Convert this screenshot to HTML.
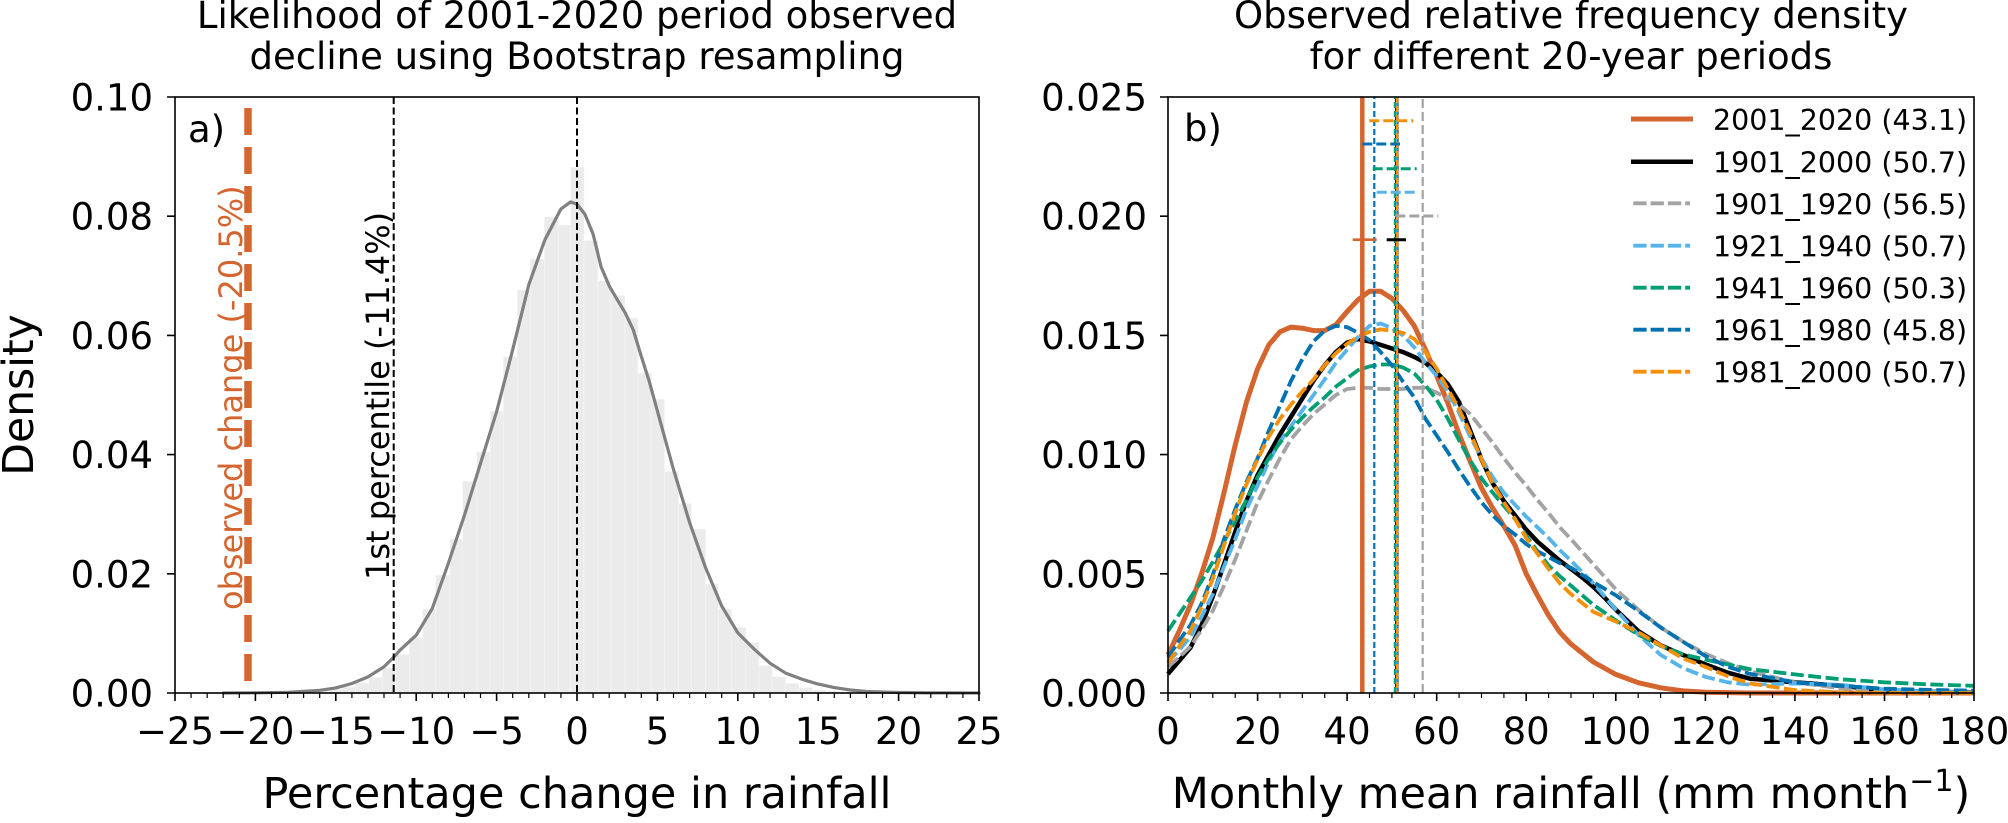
<!DOCTYPE html>
<html><head><meta charset="utf-8"><style>
html,body{margin:0;padding:0;background:#fff;}
svg{display:block;}
text{font-family:"DejaVu Sans","Liberation Sans",sans-serif;fill:#000;}
</style></head><body>
<svg width="2008" height="823" viewBox="0 0 2008 823" xmlns="http://www.w3.org/2000/svg">
<rect width="2008" height="823" fill="#fff"/>

<!-- ============ LEFT PANEL ============ -->
<text x="577" y="28" font-size="37" text-anchor="middle">Likelihood of 2001-2020 period observed</text>
<text x="577" y="69" font-size="37" text-anchor="middle">decline using Bootstrap resampling</text>

<!-- histogram -->
<g fill="#ebebeb" stroke="#f6f6f6" stroke-width="0.6">
<rect x="288.5" y="692.4" width="13.4" height="0.6"/>
<rect x="302.0" y="691.8" width="13.4" height="1.2"/>
<rect x="315.3" y="690.9" width="13.4" height="2.1"/>
<rect x="328.7" y="689.4" width="13.4" height="3.6"/>
<rect x="342.0" y="687.0" width="13.4" height="6.0"/>
<rect x="355.4" y="682.9" width="13.4" height="10.1"/>
<rect x="368.8" y="677.5" width="13.4" height="15.5"/>
<rect x="382.2" y="668.0" width="13.4" height="25.0"/>
<rect x="395.5" y="654.3" width="14.0" height="38.7"/>
<rect x="409.5" y="637.6" width="13.4" height="55.4"/>
<rect x="422.9" y="609.0" width="12.9" height="84.0"/>
<rect x="435.8" y="575.0" width="14.0" height="118.0"/>
<rect x="449.8" y="539.2" width="13.0" height="153.8"/>
<rect x="462.8" y="481.4" width="14.0" height="211.6"/>
<rect x="476.8" y="452.2" width="13.3" height="240.8"/>
<rect x="490.1" y="411.1" width="13.3" height="281.9"/>
<rect x="503.4" y="356.9" width="14.0" height="336.1"/>
<rect x="517.4" y="290.1" width="13.0" height="402.9"/>
<rect x="530.4" y="259.1" width="14.0" height="433.9"/>
<rect x="544.4" y="216.8" width="14.0" height="476.2"/>
<rect x="558.4" y="225.1" width="12.3" height="467.9"/>
<rect x="570.7" y="167.3" width="13.3" height="525.7"/>
<rect x="584.0" y="240.6" width="14.0" height="452.4"/>
<rect x="598.0" y="280.6" width="12.9" height="412.4"/>
<rect x="610.9" y="295.5" width="14.1" height="397.5"/>
<rect x="625.0" y="318.1" width="12.9" height="374.9"/>
<rect x="637.9" y="373.0" width="13.3" height="320.0"/>
<rect x="651.2" y="399.2" width="13.3" height="293.8"/>
<rect x="664.5" y="471.3" width="14.0" height="221.7"/>
<rect x="678.5" y="503.5" width="13.0" height="189.5"/>
<rect x="691.5" y="529.1" width="14.0" height="163.9"/>
<rect x="705.5" y="583.9" width="13.0" height="109.1"/>
<rect x="718.5" y="609.0" width="13.3" height="84.0"/>
<rect x="731.8" y="627.4" width="14.0" height="65.6"/>
<rect x="745.8" y="642.3" width="13.3" height="50.7"/>
<rect x="759.1" y="665.6" width="13.0" height="27.4"/>
<rect x="772.1" y="676.9" width="13.4" height="16.1"/>
<rect x="785.5" y="683.5" width="13.4" height="9.5"/>
<rect x="798.9" y="687.6" width="13.4" height="5.4"/>
<rect x="812.3" y="690.0" width="13.4" height="3.0"/>
<rect x="825.7" y="691.2" width="13.4" height="1.8"/>
<rect x="839.1" y="692.1" width="13.4" height="0.9"/>
<rect x="852.5" y="692.5" width="13.4" height="0.5"/>
</g>

<!-- KDE -->
<polyline fill="none" stroke="#808080" stroke-width="3.2" stroke-linejoin="round" stroke-linecap="round"
points="223.2,693 255.4,692.8 287.6,692.3 319.7,690.3 335.8,687.9 351.9,683.5 368.0,676.9 384.0,666.8 393.7,657.2 400.1,650.1 416.2,635.2 432.3,608.4 448.4,563.1 464.4,515.4 480.5,463.5 496.6,411.7 512.7,349.7 528.8,284.7 544.8,240.0 560.9,209.0 570.6,201.9 577.0,204.3 585.0,214.4 593.1,234.1 601.1,266.9 609.2,285.9 617.2,299.6 625.2,312.8 633.3,330.0 641.3,356.3 649.4,381.9 657.4,411.1 673.5,469.5 689.6,522.5 705.6,567.8 721.7,606.0 737.8,632.8 753.9,648.9 770.0,663.2 786.0,673.3 802.1,679.3 818.2,684.1 834.3,687.6 850.4,690.0 866.4,691.5 898.6,692.5 930.8,692.9 979,693"/>

<!-- vertical lines -->
<path d="M393.7,97 V693" stroke="#000" stroke-width="2" stroke-dasharray="7 3.5" fill="none"/>
<path d="M577,97 V693" stroke="#000" stroke-width="2" stroke-dasharray="7 3.5" fill="none"/>
<path d="M248,108 V693" stroke="#d4652f" stroke-width="7.5" stroke-dasharray="27 12" fill="none"/>

<!-- annotations -->
<text transform="translate(242,610) rotate(-90)" font-size="32" style="fill:#d4652f">observed change (-20.5%)</text>
<text transform="translate(389,580) rotate(-90)" font-size="32">1st percentile (-11.4%)</text>
<text x="188" y="142" font-size="37">a)</text>

<!-- spines -->
<rect x="175" y="97" width="804" height="596" fill="none" stroke="#000" stroke-width="1.6"/>

<!-- ticks -->
<path stroke="#000" stroke-width="1.6" fill="none" d="
M175,693v8 M255.4,693v8 M335.8,693v8 M416.2,693v8 M496.6,693v8 M577,693v8 M657.4,693v8 M737.8,693v8 M818.2,693v8 M898.6,693v8 M979,693v8
M175,693h-8 M175,573.8h-8 M175,454.6h-8 M175,335.4h-8 M175,216.2h-8 M175,97h-8"/>
<path stroke="#000" stroke-width="1.2" fill="none" d="
M191.1,693v5 M207.2,693v5 M223.2,693v5 M239.3,693v5 M271.5,693v5 M287.6,693v5 M303.6,693v5 M319.7,693v5
M351.9,693v5 M368.0,693v5 M384.0,693v5 M400.1,693v5 M432.3,693v5 M448.4,693v5 M464.4,693v5 M480.5,693v5
M512.7,693v5 M528.8,693v5 M544.8,693v5 M560.9,693v5 M593.1,693v5 M609.2,693v5 M625.2,693v5 M641.3,693v5
M673.5,693v5 M689.6,693v5 M705.6,693v5 M721.7,693v5 M753.9,693v5 M770.0,693v5 M786.0,693v5 M802.1,693v5
M834.3,693v5 M850.4,693v5 M866.4,693v5 M882.5,693v5 M914.7,693v5 M930.8,693v5 M946.8,693v5 M962.9,693v5"/>

<g font-size="37" text-anchor="middle">
<text x="175" y="744">−25</text>
<text x="255.4" y="744">−20</text>
<text x="335.8" y="744">−15</text>
<text x="416.2" y="744">−10</text>
<text x="496.6" y="744">−5</text>
<text x="577" y="744">0</text>
<text x="657.4" y="744">5</text>
<text x="737.8" y="744">10</text>
<text x="818.2" y="744">15</text>
<text x="898.6" y="744">20</text>
<text x="979" y="744">25</text>
</g>
<g font-size="37" text-anchor="end">
<text x="153" y="706.5">0.00</text>
<text x="153" y="587.3">0.02</text>
<text x="153" y="468.1">0.04</text>
<text x="153" y="348.9">0.06</text>
<text x="153" y="229.7">0.08</text>
<text x="153" y="110.5">0.10</text>
</g>
<text x="577" y="808" font-size="43" text-anchor="middle">Percentage change in rainfall</text>
<text transform="translate(33,395) rotate(-90)" font-size="42.5" text-anchor="middle">Density</text>

<!-- ============ RIGHT PANEL ============ -->
<text x="1571" y="28" font-size="37" text-anchor="middle">Observed relative frequency density</text>
<text x="1571" y="69" font-size="37" text-anchor="middle">for different 20-year periods</text>

<g fill="none" stroke-linejoin="round">
<polyline stroke="#d4652f" stroke-width="5" points="1168,654.9 1179.2,631.0 1190.4,604.8 1201.6,573.8 1212.8,538.0 1224.0,492.7 1235.2,445.1 1246.4,402.2 1257.6,368.8 1268.8,344.9 1280.0,331.8 1291.1,327.1 1302.3,328.2 1313.5,330.6 1324.7,330.6 1335.9,324.7 1347.1,311.6 1358.3,299.6 1369.5,291.3 1380.7,291.3 1391.9,298.4 1403.1,310.4 1414.3,325.9 1425.5,349.7 1436.7,375.9 1447.9,403.3 1459.1,434.3 1470.3,461.8 1481.5,488.0 1492.7,508.2 1503.9,526.1 1515.0,545.2 1526.2,573.8 1537.4,595.3 1548.6,615.5 1559.8,632.2 1571.0,644.1 1593.4,662.0 1615.8,674.4 1638.2,682.7 1660.6,687.8 1683.0,690.9 1705.4,692.3 1750.1,693 1974,693"/>
<polyline stroke="#000" stroke-width="4.5" points="1168,673.9 1179.2,660.8 1190.4,647.7 1201.6,625.1 1212.8,596.4 1224.0,564.3 1235.2,532.1 1246.4,501.1 1257.6,474.9 1268.8,454.6 1280.0,434.3 1291.1,416.5 1302.3,398.6 1313.5,380.7 1324.7,365.2 1335.9,352.1 1347.1,342.6 1358.3,339.0 1369.5,341.4 1380.7,344.9 1391.9,348.5 1403.1,352.1 1414.3,356.9 1425.5,362.8 1436.7,372.4 1447.9,384.3 1459.1,402.2 1470.3,430.8 1481.5,459.4 1492.7,483.2 1503.9,501.1 1515.0,515.4 1526.2,529.7 1537.4,541.6 1548.6,551.2 1559.8,560.7 1571.0,569.0 1582.2,577.4 1593.4,586.9 1604.6,597.6 1615.8,609.6 1638.2,631.0 1660.6,645.3 1683.0,654.9 1705.4,664.4 1727.8,672.7 1750.1,678.7 1794.9,682.3 1839.7,685.8 1884.5,690.1 1929.3,691.8 1974,692.5"/>
<g stroke-width="3.8" stroke-dasharray="13 4.5">
<polyline stroke="#a3a3a3" points="1168,666.8 1179.2,657.2 1190.4,646.5 1201.6,629.8 1212.8,610.8 1224.0,585.7 1235.2,559.5 1246.4,530.9 1257.6,502.3 1268.8,479.6 1280.0,458.2 1291.1,439.1 1302.3,426.0 1313.5,414.1 1324.7,404.5 1335.9,395.0 1347.1,389.0 1358.3,387.8 1369.5,387.8 1380.7,389.0 1391.9,389.0 1403.1,389.0 1414.3,387.8 1425.5,387.8 1436.7,392.6 1447.9,398.6 1459.1,404.5 1470.3,414.1 1481.5,428.4 1492.7,442.7 1503.9,458.2 1515.0,472.5 1526.2,485.6 1537.4,499.9 1548.6,513.0 1559.8,527.3 1571.0,539.2 1593.4,564.3 1615.8,589.3 1638.2,609.6 1660.6,627.4 1683.0,641.7 1705.4,653.7 1727.8,663.2 1750.1,671.5 1794.9,682.3 1839.7,688.2 1884.5,691.1 1929.3,692.3 1974,692.8"/>
<polyline stroke="#56b4e9" points="1168,662.0 1179.2,650.1 1190.4,637.0 1201.6,616.7 1212.8,594.1 1224.0,566.6 1235.2,539.2 1246.4,509.4 1257.6,485.6 1268.8,461.8 1280.0,441.5 1291.1,426.0 1302.3,410.5 1313.5,395.0 1324.7,379.5 1335.9,362.8 1347.1,349.7 1358.3,336.6 1369.5,325.9 1380.7,323.5 1391.9,328.2 1403.1,335.4 1414.3,347.3 1425.5,362.8 1436.7,375.9 1447.9,391.4 1459.1,412.9 1470.3,436.7 1481.5,458.2 1492.7,477.2 1503.9,492.7 1515.0,504.7 1526.2,516.6 1537.4,527.3 1548.6,538.0 1559.8,550.0 1571.0,560.7 1593.4,583.3 1615.8,609.6 1638.2,634.6 1660.6,654.9 1683.0,668.0 1705.4,676.8 1727.8,682.3 1750.1,684.7 1794.9,683.5 1839.7,684.7 1884.5,689.4 1929.3,691.6 1974,692.5"/>
<polyline stroke="#009e73" points="1168,631.0 1179.2,614.3 1190.4,597.6 1201.6,581.0 1212.8,561.9 1224.0,541.6 1235.2,521.4 1246.4,499.9 1257.6,477.2 1268.8,458.2 1280.0,442.7 1291.1,429.6 1302.3,417.6 1313.5,406.9 1324.7,397.4 1335.9,386.6 1347.1,378.3 1358.3,370.0 1369.5,366.4 1380.7,364.5 1391.9,364.5 1403.1,367.6 1414.3,373.5 1425.5,385.5 1436.7,399.8 1447.9,418.8 1459.1,440.3 1470.3,460.6 1481.5,478.4 1492.7,492.7 1503.9,505.9 1515.0,519.0 1526.2,535.7 1537.4,551.2 1548.6,565.5 1559.8,576.2 1571.0,585.7 1593.4,604.8 1615.8,620.3 1638.2,634.6 1660.6,645.8 1683.0,654.4 1705.4,659.6 1727.8,664.4 1750.1,669.2 1794.9,674.4 1839.7,679.2 1884.5,682.3 1929.3,684.4 1974,685.8"/>
<polyline stroke="#0072b2" points="1168,657.2 1179.2,640.6 1190.4,625.1 1201.6,603.6 1212.8,575.0 1224.0,539.2 1235.2,509.4 1246.4,482.0 1257.6,458.2 1268.8,430.8 1280.0,405.7 1291.1,380.7 1302.3,359.2 1313.5,341.4 1324.7,330.6 1335.9,325.9 1347.1,327.1 1358.3,333.0 1369.5,340.2 1380.7,352.1 1391.9,365.2 1403.1,381.9 1414.3,397.4 1425.5,418.8 1436.7,435.5 1447.9,452.2 1459.1,470.1 1470.3,486.8 1481.5,502.3 1492.7,515.4 1503.9,526.1 1515.0,534.5 1526.2,544.0 1537.4,551.2 1548.6,557.1 1559.8,563.1 1571.0,567.8 1593.4,582.1 1615.8,595.3 1638.2,610.8 1660.6,627.4 1683.0,641.7 1705.4,656.0 1727.8,666.8 1750.1,673.9 1794.9,682.3 1839.7,685.8 1884.5,688.7 1929.3,689.9 1974,690.6"/>
<polyline stroke="#f5900a" points="1168,663.2 1179.2,646.5 1190.4,631.0 1201.6,607.2 1212.8,578.6 1224.0,545.2 1235.2,513.0 1246.4,484.4 1257.6,459.4 1268.8,436.7 1280.0,418.8 1291.1,404.5 1302.3,391.4 1313.5,379.5 1324.7,365.2 1335.9,353.3 1347.1,343.8 1358.3,336.6 1369.5,331.8 1380.7,329.4 1391.9,330.6 1403.1,333.0 1414.3,339.0 1425.5,352.1 1436.7,368.8 1447.9,389.0 1459.1,409.3 1470.3,433.1 1481.5,459.4 1492.7,483.2 1503.9,502.3 1515.0,519.0 1526.2,538.0 1537.4,553.5 1548.6,569.0 1559.8,583.3 1571.0,594.1 1593.4,611.9 1615.8,621.5 1638.2,632.2 1660.6,645.3 1683.0,658.4 1705.4,666.8 1727.8,676.3 1750.1,683.5 1794.9,690.1 1839.7,692.3 1884.5,693 1974,693"/>
</g>
</g>

<!-- mean vertical lines -->
<path d="M1362.3,693 V97" stroke="#d4652f" stroke-width="4.5" fill="none"/>
<path d="M1374.3,693 V97" stroke="#0072b2" stroke-width="2.2" stroke-dasharray="6 3" fill="none"/>
<path d="M1422.7,693 V97" stroke="#a3a3a3" stroke-width="2.2" stroke-dasharray="9 4" fill="none"/>
<path d="M1396.7,693 V97" stroke="#000" stroke-width="3.5" fill="none"/>
<path d="M1396.7,693 V97" stroke="#56b4e9" stroke-width="2" stroke-dasharray="6 3" fill="none"/>
<path d="M1395.0,693 V97" stroke="#009e73" stroke-width="2.4" stroke-dasharray="6 3" fill="none"/>
<path d="M1397.0,693 V97" stroke="#f5900a" stroke-width="2.4" stroke-dasharray="6 3" stroke-dashoffset="4" fill="none"/>

<!-- horizontal spread bars -->
<path d="M1369.3,120.7 H1413.3" stroke="#f5900a" stroke-width="3" stroke-dasharray="10 4" fill="none"/>
<path d="M1362.3,144 H1400" stroke="#0072b2" stroke-width="3" stroke-dasharray="10 4" fill="none"/>
<path d="M1372.7,168.7 H1416.7" stroke="#009e73" stroke-width="3" stroke-dasharray="10 4" fill="none"/>
<path d="M1376.7,192.3 H1415" stroke="#56b4e9" stroke-width="3" stroke-dasharray="10 4" fill="none"/>
<path d="M1395.3,216 H1438.3" stroke="#a3a3a3" stroke-width="3" stroke-dasharray="10 4" fill="none"/>
<path d="M1352.7,239.7 H1376.7" stroke="#d4652f" stroke-width="2.6" fill="none"/>
<path d="M1386.7,239.7 H1406" stroke="#000" stroke-width="3" fill="none"/>

<text x="1184" y="141" font-size="37">b)</text>

<!-- legend -->
<g fill="none">
<path d="M1631,119 H1693" stroke="#d4652f" stroke-width="5"/>
<path d="M1631,161.7 H1693" stroke="#000" stroke-width="4.5"/>
<g stroke-width="3.8" stroke-dasharray="13.3 4">
<path d="M1633.3,203.3 H1690" stroke="#a3a3a3"/>
<path d="M1633.3,245.7 H1690" stroke="#56b4e9"/>
<path d="M1633.3,287.7 H1690" stroke="#009e73"/>
<path d="M1633.3,329.7 H1690" stroke="#0072b2"/>
<path d="M1633.3,371.7 H1690" stroke="#f5900a"/>
</g>
</g>
<g font-size="28.5">
<text x="1713" y="130">2001_2020 (43.1)</text>
<text x="1713" y="172.7">1901_2000 (50.7)</text>
<text x="1713" y="214.3">1901_1920 (56.5)</text>
<text x="1713" y="256.7">1921_1940 (50.7)</text>
<text x="1713" y="298.7">1941_1960 (50.3)</text>
<text x="1713" y="340.7">1961_1980 (45.8)</text>
<text x="1713" y="382.7">1981_2000 (50.7)</text>
</g>

<!-- spines -->
<rect x="1168" y="97" width="806" height="596" fill="none" stroke="#000" stroke-width="1.6"/>

<!-- ticks -->
<path stroke="#000" stroke-width="1.6" fill="none" d="
M1168,693v8 M1257.6,693v8 M1347.1,693v8 M1436.7,693v8 M1526.2,693v8 M1615.8,693v8 M1705.4,693v8 M1794.9,693v8 M1884.5,693v8 M1974,693v8
M1168,693h-8 M1168,573.8h-8 M1168,454.6h-8 M1168,335.4h-8 M1168,216.2h-8 M1168,97h-8"/>
<path stroke="#000" stroke-width="1.2" fill="none" d="
M1190.4,693v5 M1212.8,693v5 M1235.2,693v5 M1280.0,693v5 M1302.3,693v5 M1324.7,693v5
M1369.5,693v5 M1391.9,693v5 M1414.3,693v5 M1459.1,693v5 M1481.5,693v5 M1503.9,693v5
M1548.6,693v5 M1571.0,693v5 M1593.4,693v5 M1638.2,693v5 M1660.6,693v5 M1683.0,693v5
M1727.8,693v5 M1750.1,693v5 M1772.5,693v5 M1817.3,693v5 M1839.7,693v5 M1862.1,693v5
M1906.9,693v5 M1929.3,693v5 M1951.7,693v5"/>

<g font-size="37" text-anchor="middle">
<text x="1168" y="744">0</text>
<text x="1257.6" y="744">20</text>
<text x="1347.1" y="744">40</text>
<text x="1436.7" y="744">60</text>
<text x="1526.2" y="744">80</text>
<text x="1615.8" y="744">100</text>
<text x="1705.4" y="744">120</text>
<text x="1794.9" y="744">140</text>
<text x="1884.5" y="744">160</text>
<text x="1974" y="744">180</text>
</g>
<g font-size="37" text-anchor="end">
<text x="1147" y="706.5">0.000</text>
<text x="1147" y="587.3">0.005</text>
<text x="1147" y="468.1">0.010</text>
<text x="1147" y="348.9">0.015</text>
<text x="1147" y="229.7">0.020</text>
<text x="1147" y="110.5">0.025</text>
</g>
<text x="1571" y="808" font-size="43" text-anchor="middle">Monthly mean rainfall (mm month<tspan font-size="30" dy="-17">−1</tspan><tspan dy="17">)</tspan></text>
</svg>
</body></html>
